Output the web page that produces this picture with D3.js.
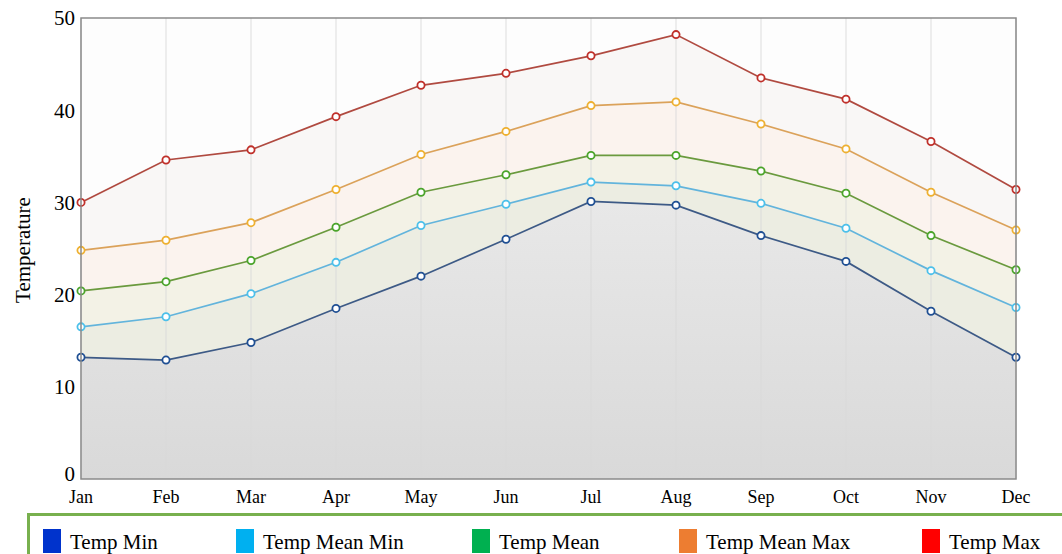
<!DOCTYPE html>
<html>
<head>
<meta charset="utf-8">
<script src="https://cdn.jsdelivr.net/npm/d3@7"></script>
<style>
  body { margin: 0; background: #fff; }
  text { font-family: "Liberation Serif", "DejaVu Serif", serif; }
</style>
</head>
<body>
<svg id="chart" width="1062" height="554"></svg>
<script>
var months = ["Jan", "Feb", "Mar", "Apr", "May", "Jun", "Jul", "Aug", "Sep", "Oct", "Nov", "Dec"]
var yTicks = [0, 10, 20, 30, 40, 50]

var tempMin = [13.2, 12.9, 14.8, 18.5, 22.0, 26.0, 30.1, 29.7, 26.4, 23.6, 18.2, 13.2]
var tempMeanMin = [16.5, 17.6, 20.1, 23.5, 27.5, 29.8, 32.2, 31.8, 29.9, 27.2, 22.6, 18.6]
var tempMean = [20.4, 21.4, 23.7, 27.3, 31.1, 33.0, 35.1, 35.1, 33.4, 31.0, 26.4, 22.7]
var tempMeanMax = [24.8, 25.9, 27.8, 31.4, 35.2, 37.7, 40.5, 40.9, 38.5, 35.8, 31.1, 27.0]
var tempMax = [30.0, 34.6, 35.7, 39.3, 42.7, 44.0, 45.9, 48.2, 43.5, 41.2, 36.6, 31.4]

var seriesNames = ["Temp Min", "Temp Mean Min", "Temp Mean", "Temp Mean Max", "Temp Max"]
var seriesValues = [tempMin, tempMeanMin, tempMean, tempMeanMax, tempMax]

// legend swatch colours, line colours and the pale area tints
var legendColors = ["#0033cc", "#00b0f0", "#00b050", "#ed7d31", "#ff0000"]
var lineColors = ["#3d5a86", "#62b4dc", "#6a9a3e", "#dba25a", "#b04a40"]
var markColors = ["#1f4f93", "#4cc0ea", "#4aa42a", "#eeb030", "#c0302a"]
var areaColors = ["#dedede", "#ecede2", "#f3f2e6", "#fbf3ee", "#f9f7f6"]

var svg = d3.select("#chart")
var margin = {top: 18, left: 81, right: 46, bottom: 75}
var width = 1062 - margin.left - margin.right,
    height = 554 - margin.top - margin.bottom

var x = d3.scalePoint().domain(months).range([0, width])
var y = d3.scaleLinear().domain([0, 50]).range([height, 0])

var defs = svg.append("defs")
var grad = defs.append("linearGradient").attr("id", "minGrad")
    .attr("x1", 0).attr("y1", 0).attr("x2", 0).attr("y2", 1)
grad.append("stop").attr("offset", "0%").attr("stop-color", "#e8e8e8")
grad.append("stop").attr("offset", "100%").attr("stop-color", "#d9d9d9")

var g = svg.append("g").attr("transform", "translate(" + margin.left + "," + margin.top + ")")

// background
g.append("rect").attr("width", width).attr("height", height).attr("fill", "#fdfdfd")

// areas, top series first so lower ones cover them
var area = d3.area()
    .x(function(d, i) { return x(months[i]) })
    .y0(y(0))
    .y1(function(d) { return y(d) })

for (var s = seriesValues.length - 1; s >= 0; s--) {
    g.append("path")
        .datum(seriesValues[s])
        .attr("d", area)
        .attr("fill", s == 0 ? "url(#minGrad)" : areaColors[s])
}

// grid
g.selectAll(".vgrid").data(months).enter().append("line")
    .attr("x1", function(d) { return x(d) }).attr("x2", function(d) { return x(d) })
    .attr("y1", 0).attr("y2", height)
    .attr("stroke", "#d8d8d8").attr("stroke-opacity", 0.6).attr("stroke-width", 1.5)

// lines + markers
var line = d3.line()
    .x(function(d, i) { return x(months[i]) })
    .y(function(d) { return y(d) })

seriesValues.forEach(function(vals, s) {
    g.append("path")
        .datum(vals)
        .attr("d", line)
        .attr("fill", "none")
        .attr("stroke", lineColors[s])
        .attr("stroke-width", 1.7)
    g.selectAll(".m" + s).data(vals).enter().append("circle")
        .attr("cx", function(d, i) { return x(months[i]) })
        .attr("cy", function(d) { return y(d) })
        .attr("r", 3.6)
        .attr("fill", "#fff")
        .attr("stroke", markColors[s])
        .attr("stroke-width", 1.8)
})

// frame
g.append("rect").attr("width", width).attr("height", height)
    .attr("fill", "none").attr("stroke", "#8a8a8a").attr("stroke-width", 1.5)

// y axis labels
g.selectAll(".ytick").data(yTicks).enter().append("text")
    .attr("x", -6)
    .attr("y", function(d) { return y(d) })
    .attr("dy", function(d) { return d == 0 ? "0.08em" : "0.35em" })
    .attr("text-anchor", "end")
    .attr("font-size", 21)
    .text(function(d) { return d })

// x axis labels
g.selectAll(".xtick").data(months).enter().append("text")
    .attr("x", function(d) { return x(d) })
    .attr("y", height + 24)
    .attr("text-anchor", "middle")
    .attr("font-size", 18)
    .text(function(d) { return d })

svg.append("text")
    .attr("transform", "translate(30,250) rotate(-90)")
    .attr("text-anchor", "middle")
    .attr("font-size", 21)
    .text("Temperature")

// legend
svg.append("rect").attr("x", 28.5).attr("y", 514.5).attr("width", 1045).attr("height", 60)
    .attr("fill", "#fff").attr("stroke", "#78b04e").attr("stroke-width", 3)

var legendX = [43, 236, 472, 679, 922]
var legend = svg.selectAll(".leg").data(seriesNames).enter().append("g")
    .attr("transform", function(d, i) { return "translate(" + legendX[i] + ",529)" })
legend.append("rect").attr("width", 18).attr("height", 24)
    .attr("fill", function(d, i) { return legendColors[i] })
legend.append("text").attr("x", 27).attr("y", 20)
    .attr("font-size", 21)
    .text(function(d) { return d })
</script>
</body>
</html>
